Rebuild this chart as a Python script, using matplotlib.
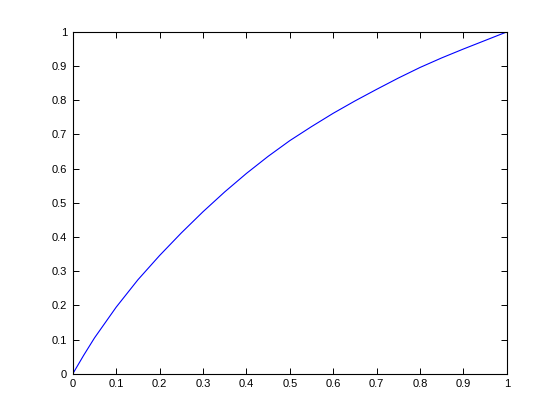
import matplotlib
matplotlib.use('Agg')
import matplotlib.pyplot as plt

# values
x = [0, 0.025, 0.05, 0.1, 0.15, 0.2, 0.25, 0.3, 0.35, 0.4, 0.45, 0.5,
     0.55, 0.6, 0.65, 0.7, 0.75, 0.8, 0.85, 0.9, 0.95, 1.0]
y = [0, 0.054, 0.105, 0.195, 0.275, 0.346, 0.412, 0.474, 0.532, 0.586, 0.636, 0.682,
     0.723, 0.762, 0.798, 0.832, 0.865, 0.896, 0.924, 0.950, 0.975, 1.0]

ticks = [0, 0.1, 0.2, 0.3, 0.4, 0.5, 0.6, 0.7, 0.8, 0.9, 1]
tick_labels = ['0', '0.1', '0.2', '0.3', '0.4', '0.5', '0.6', '0.7', '0.8', '0.9', '1']

plt.rcParams['font.family'] = ['Liberation Sans', 'DejaVu Sans']

fig = plt.figure(figsize=(5.6, 4.2), dpi=100)
ax = fig.add_axes([0.13, 0.11, 0.775, 0.814])
ax.plot(x, y, color='#0000ff', linewidth=0.8)

ax.set_xlim(0, 1)
ax.set_ylim(0, 1)
ax.set_xticks(ticks)
ax.set_xticklabels(tick_labels)
ax.set_yticks(ticks)
ax.set_yticklabels(tick_labels)
ax.tick_params(direction='in', top=True, right=True, length=4, width=0.7,
               labelsize=8, pad=4)
for s in ax.spines.values():
    s.set_linewidth(0.8)

fig.savefig('out.png', dpi=100, facecolor='white')
